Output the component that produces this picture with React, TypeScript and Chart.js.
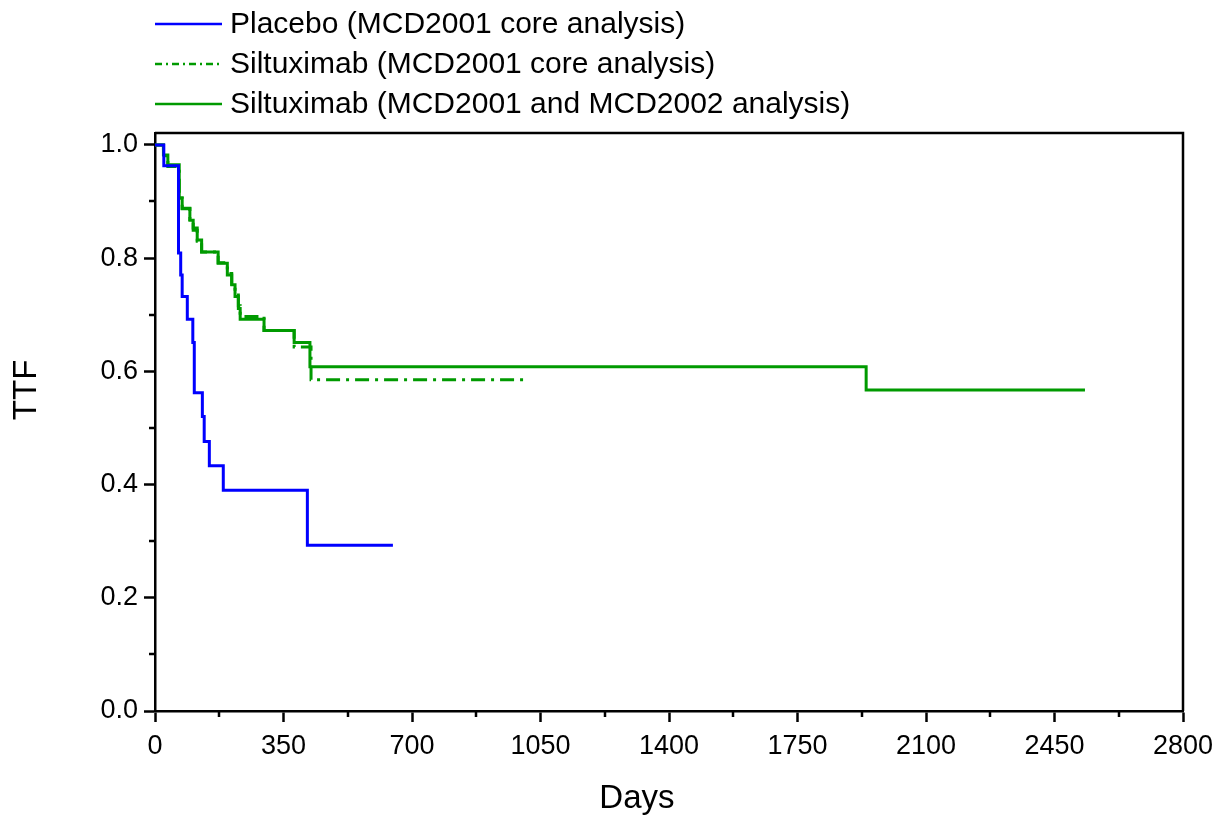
import React, { useEffect, useRef } from "react";
import { Chart, registerables } from "chart.js";

Chart.register(...registerables);

// ---- Data ----
const placeboDays = [0, 24, 64, 70, 74, 88, 103, 107, 129, 134, 148, 186, 415, 648];
const placeboTTF = [1.0, 0.963, 0.809, 0.77, 0.732, 0.692, 0.651, 0.562, 0.52, 0.476, 0.433, 0.39, 0.293, 0.293];

const siltCoreDays = [0, 23, 35, 66, 74, 95, 104, 115, 127, 172, 197, 209, 218, 227, 232, 297, 379, 425, 1017];
const siltCoreTTF = [1.0, 0.981, 0.962, 0.906, 0.887, 0.868, 0.849, 0.83, 0.811, 0.792, 0.773, 0.754, 0.735, 0.716, 0.697, 0.672, 0.643, 0.585, 0.585];

const siltAllDays = [0, 23, 35, 66, 74, 95, 104, 115, 127, 172, 197, 209, 218, 227, 232, 297, 379, 422, 1937, 2533];
const siltAllTTF = [1.0, 0.982, 0.965, 0.906, 0.888, 0.867, 0.853, 0.832, 0.811, 0.791, 0.77, 0.753, 0.732, 0.711, 0.692, 0.672, 0.651, 0.608, 0.567, 0.567];

const seriesLabels = [
  "Placebo (MCD2001 core analysis)",
  "Siltuximab (MCD2001 core analysis)",
  "Siltuximab (MCD2001 and MCD2002 analysis)",
];

const xTicks = [0, 350, 700, 1050, 1400, 1750, 2100, 2450, 2800];
const xMinorTicks = [175, 525, 875, 1225, 1575, 1925, 2275, 2625];
const yTicks = [0, 0.2, 0.4, 0.6, 0.8, 1.0];
const yMinorTicks = [0.1, 0.3, 0.5, 0.7, 0.9];

const xTitle = "Days";
const yTitle = "TTF";

// ---- Styles ----
const FONT = "'Liberation Sans', Arial, Helvetica, sans-serif";
const BLUE = "#0000ff";
const GREEN = "#009a00";

const toPoints = (xs: number[], ys: number[]) => xs.map((x, i) => ({ x, y: ys[i] }));

const decorPlugin = {
  id: "decor",
  afterDraw(chart: any) {
    const { ctx, chartArea: a, scales } = chart;
    ctx.save();
    ctx.strokeStyle = "#000";
    ctx.lineWidth = 2.5;
    ctx.setLineDash([]);
    // top & right frame
    ctx.beginPath();
    ctx.moveTo(a.left, a.top);
    ctx.lineTo(a.right, a.top);
    ctx.lineTo(a.right, a.bottom);
    ctx.stroke();
    // minor ticks
    ctx.beginPath();
    for (const v of xMinorTicks) {
      const x = Math.round(scales.x.getPixelForValue(v));
      ctx.moveTo(x, a.bottom);
      ctx.lineTo(x, a.bottom + 6);
    }
    for (const v of yMinorTicks) {
      const y = Math.round(scales.y.getPixelForValue(v));
      ctx.moveTo(a.left, y);
      ctx.lineTo(a.left - 6, y);
    }
    ctx.stroke();
    // legend
    chart.data.datasets.forEach((ds: any, i: number) => {
      const y = 24 + i * 40;
      ctx.strokeStyle = ds.borderColor;
      ctx.lineWidth = 2.5;
      ctx.setLineDash(ds.borderDash && ds.borderDash.length ? [7, 4, 2, 4] : []);
      ctx.beginPath();
      ctx.moveTo(155, y);
      ctx.lineTo(222, y);
      ctx.stroke();
      ctx.setLineDash([]);
      ctx.fillStyle = "#000";
      ctx.font = `30px ${FONT}`;
      ctx.textBaseline = "middle";
      ctx.textAlign = "left";
      ctx.fillText(ds.label, 230, y + 1);
    });
    ctx.restore();
  },
};

export default function App() {
  const canvasRef = useRef<HTMLCanvasElement | null>(null);

  useEffect(() => {
    document.body.style.margin = "0";
    const canvas = canvasRef.current;
    if (!canvas) return;
    const chart = new Chart(canvas, {
      type: "line",
      data: {
        datasets: [
          {
            label: seriesLabels[0],
            data: toPoints(placeboDays, placeboTTF),
            borderColor: BLUE,
            backgroundColor: BLUE,
            borderWidth: 3,
            stepped: true,
            pointRadius: 0,
            fill: false,
          },
          {
            label: seriesLabels[1],
            data: toPoints(siltCoreDays, siltCoreTTF),
            borderColor: GREEN,
            backgroundColor: GREEN,
            borderWidth: 3,
            borderDash: [14, 6, 3, 6],
            stepped: true,
            pointRadius: 0,
            fill: false,
          },
          {
            label: seriesLabels[2],
            data: toPoints(siltAllDays, siltAllTTF),
            borderColor: GREEN,
            backgroundColor: GREEN,
            borderWidth: 3,
            stepped: true,
            pointRadius: 0,
            fill: false,
          },
        ],
      },
      options: {
        animation: false,
        responsive: false,
        maintainAspectRatio: false,
        devicePixelRatio: 1,
        layout: { padding: { top: 133, right: 32, left: 0, bottom: 0 } },
        plugins: {
          legend: { display: false },
          tooltip: { enabled: false },
        },
        scales: {
          x: {
            type: "linear",
            min: 0,
            max: 2800,
            afterBuildTicks: (s: any) => {
              s.ticks = xTicks.map((v) => ({ value: v }));
            },
            afterFit: (s: any) => {
              s.height = 105;
              s.paddingLeft = 0;
              s.paddingRight = 0;
            },
            ticks: {
              color: "#000",
              font: { family: FONT, size: 27 },
              padding: 8,
              maxRotation: 0,
              autoSkip: false,
              callback: (v: any) => String(v),
            },
            grid: {
              drawOnChartArea: false,
              drawTicks: true,
              tickLength: 11,
              tickWidth: 2.5,
              tickColor: "#000",
            },
            border: { display: true, color: "#000", width: 2.5 },
            title: {
              display: true,
              text: xTitle + "       ",
              color: "#000",
              font: { family: FONT, size: 33 },
              padding: { top: 0, bottom: -3 },
            },
          },
          y: {
            type: "linear",
            min: 0,
            max: 1.021,
            afterBuildTicks: (s: any) => {
              s.ticks = yTicks.map((v) => ({ value: v }));
            },
            afterFit: (s: any) => {
              s.width = 155;
            },
            ticks: {
              color: "#000",
              font: { family: FONT, size: 27 },
              padding: 6,
              autoSkip: false,
              callback: (v: any) => Number(v).toFixed(1),
            },
            grid: {
              drawOnChartArea: false,
              drawTicks: true,
              tickLength: 11,
              tickWidth: 2.5,
              tickColor: "#000",
            },
            border: { display: true, color: "#000", width: 2.5 },
            title: {
              display: true,
              text: "       " + yTitle,
              color: "#000",
              font: { family: FONT, size: 33 },
              padding: { top: 7, bottom: 0 },
            },
          },
        },
      },
      plugins: [decorPlugin],
    } as any);
    return () => chart.destroy();
  }, []);

  return (
    <div style={{ position: "absolute", left: 0, top: 0, width: 1215, height: 816 }}>
      <canvas ref={canvasRef} width={1215} height={816} style={{ width: 1215, height: 816, display: "block" }} />
    </div>
  );
}
